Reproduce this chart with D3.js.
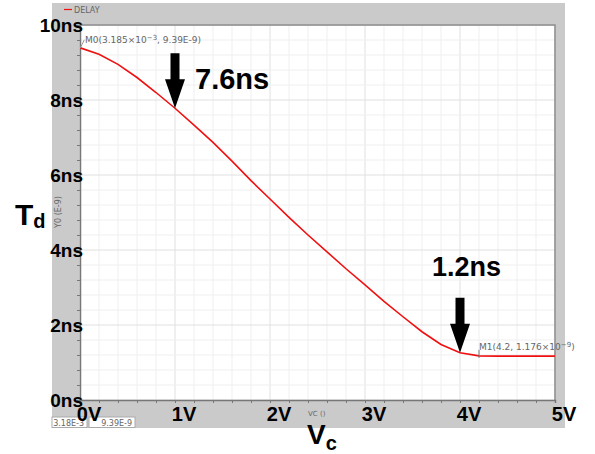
<!DOCTYPE html>
<html>
<head>
<meta charset="utf-8">
<script src="https://cdn.jsdelivr.net/npm/d3@7"></script>
<style>
  body { margin: 0; background: #fff; }
  svg { display: block; }
  .big { font-family: 'Liberation Sans', Arial, sans-serif; font-weight: bold; fill: #000; }
  .tiny { font-family: 'DejaVu Sans', sans-serif; fill: #666; }
</style>
</head>
<body>
<svg width="595" height="454"></svg>
<script>
// control voltage (V) and delay (ns)
const vc = [0.003, 0.2, 0.4, 0.6, 0.8, 1.0, 1.2, 1.4, 1.6, 1.8, 2.0, 2.2, 2.4, 2.6, 2.8, 3.0, 3.2, 3.4, 3.6, 3.8, 4.0, 4.2, 4.4, 4.6, 4.8, 5.0];
const td = [9.39, 9.22, 8.95, 8.6, 8.2, 7.78, 7.33, 6.87, 6.37, 5.85, 5.36, 4.87, 4.4, 3.95, 3.5, 3.07, 2.63, 2.22, 1.82, 1.48, 1.26, 1.176, 1.17, 1.17, 1.17, 1.17];

const xTicks = [0, 1, 2, 3, 4, 5];
const yTicks = [0, 2, 4, 6, 8, 10];

// arrow callouts: x value, y at the tip, label
const callouts = [
  { v: 1.0, t: 7.78, label: '7.6ns' },
  { v: 4.0, t: 1.26, label: '1.2ns' }
];

const svg = d3.select('svg');

const x = d3.scaleLinear().domain([0, 5]).range([80, 555]);
const y = d3.scaleLinear().domain([0, 10]).range([400, 25]);

// grey frame of the simulator window
svg.append('rect')
  .attr('x', 52).attr('y', 3)
  .attr('width', 513).attr('height', 425)
  .attr('fill', '#cacaca');

svg.append('rect')
  .attr('x', x(0)).attr('y', y(10))
  .attr('width', x(5) - x(0)).attr('height', y(0) - y(10))
  .attr('fill', '#fff');

// grid
const minorX = d3.range(0, 5.001, 0.2);
const minorY = d3.range(0, 10.001, 0.4);

const grid = svg.append('g');
grid.selectAll('.mx').data(minorX).join('line')
  .attr('x1', d => x(d)).attr('x2', d => x(d))
  .attr('y1', y(0)).attr('y2', y(10))
  .attr('stroke', d => Math.abs(d - Math.round(d)) < 1e-6 ? '#e0e0e0' : '#efefef')
  .attr('stroke-width', 1);
grid.selectAll('.my').data(minorY).join('line')
  .attr('y1', d => y(d)).attr('y2', d => y(d))
  .attr('x1', x(0)).attr('x2', x(5))
  .attr('stroke', d => Math.abs(d / 2 - Math.round(d / 2)) < 1e-6 ? '#e0e0e0' : '#efefef')
  .attr('stroke-width', 1);

// plot border, top and right
svg.append('path')
  .attr('d', `M${x(0)},${y(10)}H${x(5)}V${y(0)}`)
  .attr('fill', 'none')
  .attr('stroke', '#8a8a8a')
  .attr('stroke-width', 1.5);

// small axis ticks
const yAxisG = svg.append('g')
  .attr('transform', `translate(${x(0)},0)`)
  .call(d3.axisLeft(y).tickValues(minorY).tickSize(3).tickFormat(''));
const xAxisG = svg.append('g')
  .attr('transform', `translate(0,${y(0)})`)
  .call(d3.axisBottom(x).tickValues(minorX).tickSize(3).tickFormat(''));
[yAxisG, xAxisG].forEach(g => {
  g.select('.domain').attr('stroke', '#777').attr('stroke-width', 1.5);
  g.selectAll('.tick line').attr('stroke', '#777');
});

// curve
const line = d3.line()
  .x((d, i) => x(vc[i]))
  .y(d => y(d));

svg.append('path')
  .attr('d', line(td))
  .attr('fill', 'none')
  .attr('stroke', '#f01010')
  .attr('stroke-width', 1.6);

// marker labels
svg.append('line')
  .attr('x1', x(vc[0])).attr('x2', x(vc[0]) + 4)
  .attr('y1', y(td[0])).attr('y2', y(td[0]) - 8)
  .attr('stroke', '#999');
svg.append('text').attr('class', 'tiny')
  .attr('x', 85).attr('y', 43)
  .attr('font-size', 9)
  .html('M0(3.185×10<tspan dy="-3" font-size="7">−3</tspan><tspan dy="3">, 9.39E-9)</tspan>');

svg.append('line')
  .attr('x1', x(4.2)).attr('x2', x(4.2))
  .attr('y1', y(1.176) - 6).attr('y2', y(1.176) + 2)
  .attr('stroke', '#777');
svg.append('text').attr('class', 'tiny')
  .attr('x', 479).attr('y', 350)
  .attr('font-size', 9)
  .html('M1(4.2, 1.176×10<tspan dy="-3" font-size="7">−9</tspan><tspan dy="3">)</tspan>');

// legend
svg.append('line')
  .attr('x1', 64).attr('x2', 72).attr('y1', 9.5).attr('y2', 9.5)
  .attr('stroke', '#f01010').attr('stroke-width', 1.2);
svg.append('text').attr('class', 'tiny')
  .attr('x', 74).attr('y', 12.5)
  .attr('font-size', 8)
  .attr('fill', '#777')
  .text('DELAY');

// small axis names from the simulator
svg.append('text').attr('class', 'tiny')
  .attr('transform', `translate(61,212) rotate(-90)`)
  .attr('text-anchor', 'middle')
  .attr('font-size', 8)
  .attr('fill', '#999')
  .text('Y0 (E-9)');
svg.append('text').attr('class', 'tiny')
  .attr('x', 308).attr('y', 416)
  .attr('font-size', 7)
  .attr('fill', '#999')
  .text('VC ()');

// cursor readout boxes
const boxes = [
  { x: 52, w: 35, t: '3.18E-3' },
  { x: 89, w: 46, t: '9.39E-9' }
];
boxes.forEach(b => {
  svg.append('rect')
    .attr('x', b.x).attr('y', 417)
    .attr('width', b.w).attr('height', 10.5)
    .attr('fill', '#fff').attr('stroke', '#aaa');
  svg.append('text').attr('class', 'tiny')
    .attr('x', b.x + b.w - 3).attr('y', 425.5)
    .attr('text-anchor', 'end')
    .attr('font-size', 8)
    .attr('fill', '#777')
    .text(b.t);
});

// big tick labels
svg.append('g').selectAll('text').data(yTicks).join('text')
  .attr('class', 'big')
  .attr('x', 83)
  .attr('y', d => y(d) + 7)
  .attr('text-anchor', 'end')
  .attr('font-size', 19)
  .text(d => d + 'ns');

svg.append('g').selectAll('text').data(xTicks).join('text')
  .attr('class', 'big')
  .attr('x', d => x(d) + 9)
  .attr('y', 421)
  .attr('text-anchor', 'middle')
  .attr('font-size', 20)
  .text(d => d + 'V');

// axis titles
svg.append('text').attr('class', 'big')
  .attr('x', 15).attr('y', 225)
  .attr('font-size', 30)
  .html('T<tspan font-size="20" dy="3">d</tspan>');
svg.append('text').attr('class', 'big')
  .attr('x', 307).attr('y', 444)
  .attr('font-size', 28)
  .html('V<tspan font-size="20" dy="6">c</tspan>');

// arrows and callout values
callouts.forEach(c => {
  const cx = x(c.v);
  const tip = y(c.t);
  svg.append('path')
    .attr('d', `M${cx - 4.5},${tip - 55}H${cx + 4.5}V${tip - 29}H${cx + 10}L${cx},${tip}L${cx - 10},${tip - 29}H${cx - 4.5}Z`)
    .attr('fill', '#000');
});

svg.append('text').attr('class', 'big')
  .attr('x', 195).attr('y', 89)
  .attr('font-size', 29)
  .text(callouts[0].label);
svg.append('text').attr('class', 'big')
  .attr('x', 432).attr('y', 276)
  .attr('font-size', 27)
  .text(callouts[1].label);
</script>
</body>
</html>
